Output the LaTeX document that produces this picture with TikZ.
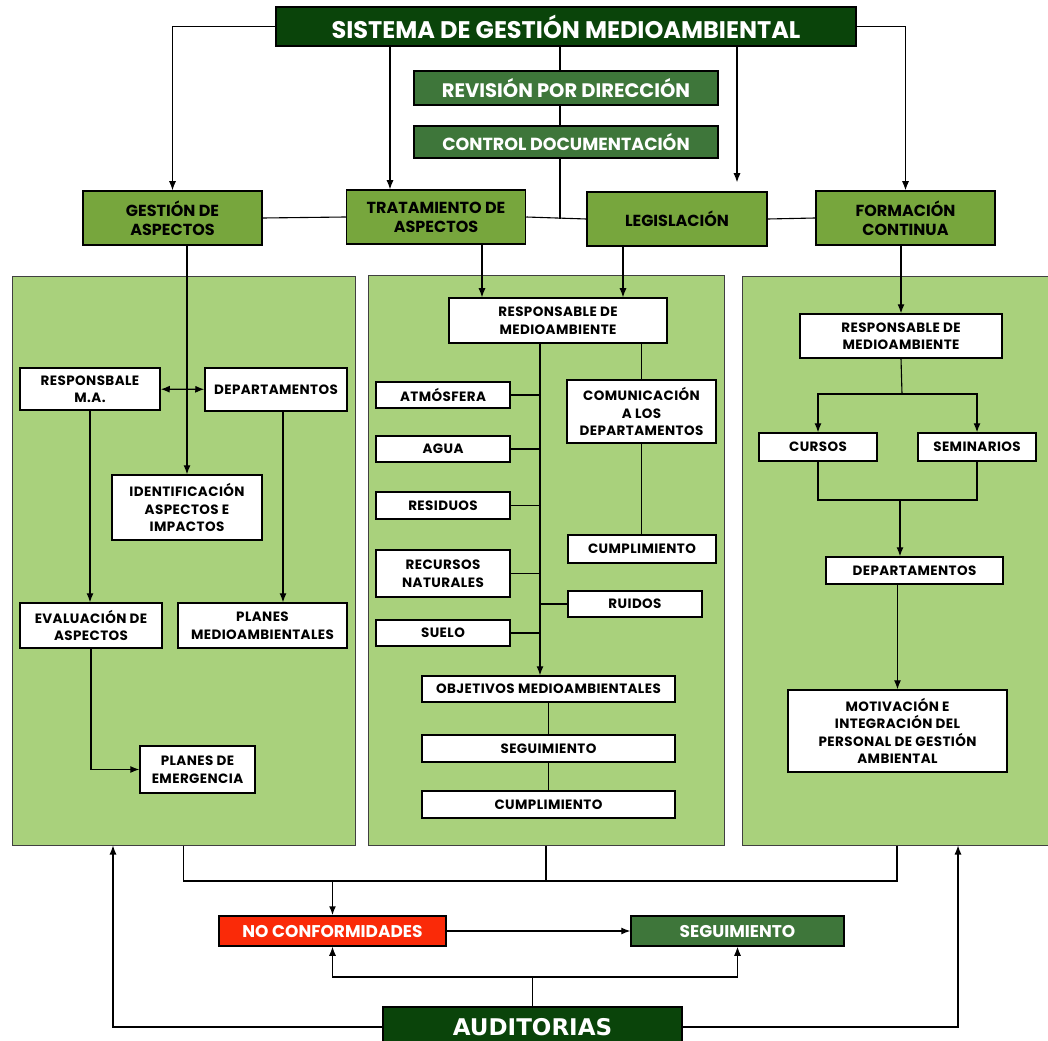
\documentclass[tikz,border=0pt]{standalone}
\usepackage{fontspec}
\setmainfont{Poppins}
\newfontfamily\boxfont[LetterSpace=3]{Poppins}
\newfontfamily\auditfont{DejaVu Sans}
\usetikzlibrary{arrows.meta,positioning}
\definecolor{darkgreen}{RGB}{10,68,10}
\definecolor{midgreen}{RGB}{62,118,58}
\definecolor{leafgreen}{RGB}{119,166,61}
\definecolor{panelgreen}{RGB}{169,209,124}
\definecolor{ncred}{RGB}{250,42,8}

\begin{document}
\begin{tikzpicture}[x=1pt,y=-1pt,>={Latex[length=9pt,width=7pt]},line width=1.1pt,
    panel/.style={fill=panelgreen, draw=black!75, line width=1pt, inner sep=0pt},
    headbox/.style={draw=black, line width=1.5pt, text=white, align=center, inner sep=0pt,
        font=\bfseries\fontsize{16}{19}\selectfont},
    topbox/.style={headbox, fill=darkgreen, font=\bfseries\fontsize{24}{28}\selectfont},
    midbox/.style={headbox, fill=midgreen, font=\bfseries\fontsize{19.5}{22}\selectfont},
    leafbox/.style={headbox, fill=leafgreen, text=black, minimum width=179pt, minimum height=54pt},
    wbox/.style={fill=white, draw=black, line width=1.5pt, align=center, inner sep=1pt,
        font=\boxfont\bfseries\fontsize{13.5}{17.5}\selectfont},
    botbox/.style={headbox, minimum height=30pt, font=\bfseries\fontsize{17}{20}\selectfont}]
    \useasboundingbox (0,0) rectangle (1048,1040);
    %%%%%%%%%
    \node (title) [topbox, minimum width=580pt, minimum height=39pt] at (566,26.5) {SISTEMA DE GESTIÓN MEDIOAMBIENTAL};
    \node (rev) [midbox, minimum width=304pt, minimum height=34pt, below of=title, node distance=61.5pt] {REVISIÓN POR DIRECCIÓN};
    \node (ctrl) [midbox, minimum width=304pt, minimum height=32pt, below of=rev, node distance=54pt,
        font=\bfseries\fontsize{17.5}{20}\selectfont] {CONTROL DOCUMENTACIÓN};
    \node (gest) [leafbox] at (172.5,218) {GESTIÓN DE\\ASPECTOS};
    \node (trat) [leafbox] at (436,217) {TRATAMIENTO DE\\ASPECTOS};
    \node (legis) [leafbox, minimum width=180pt] at (677,219) {LEGISLACIÓN};
    \node (form) [leafbox] at (905.5,218) {FORMACIÓN\\CONTINUA};
    %%%%%%%%%
    \node (p1) [panel, minimum width=343pt, minimum height=568pt] at (183.5,561) {};
    \node (p2) [panel, minimum width=356pt, minimum height=569pt] at (546,560.5) {};
    \node (p3) [panel, minimum width=310pt, minimum height=568pt] at (897,561) {};
    %%%%%%%%%
    \node (resp1) [wbox, minimum width=140pt, minimum height=42pt] at (90,389) {RESPONSBALE\\M.A.};
    \node (dep1) [wbox, minimum width=142pt, minimum height=43pt] at (276,389.5) {DEPARTAMENTOS};
    \node (ident) [wbox, minimum width=150pt, minimum height=65pt] at (187,507.5) {IDENTIFICACIÓN\\ASPECTOS E\\IMPACTOS};
    \node (eval) [wbox, minimum width=142pt, minimum height=45pt] at (91,625.5) {EVALUACIÓN DE\\ASPECTOS};
    \node (planma) [wbox, minimum width=169pt, minimum height=45pt] at (262.5,625.5) {PLANES\\MEDIOAMBIENTALES};
    \node (emerg) [wbox, minimum width=115pt, minimum height=47pt] at (197.5,769.5) {PLANES DE\\EMERGENCIA};
    %%%%%%%%%
    \node (resp2) [wbox, minimum width=218pt, minimum height=45pt] at (558,320.5) {RESPONSABLE DE\\MEDIOAMBIENTE};
    \node (atm) [wbox, minimum width=134pt, minimum height=26pt] at (443,395) {ATMÓSFERA};
    \node (agua) [wbox, minimum width=134pt, minimum height=26pt, below of=atm, node distance=54pt] {AGUA};
    \node (resid) [wbox, minimum width=134pt, minimum height=27pt, below of=agua, node distance=56.5pt] {RESIDUOS};
    \node (recur) [wbox, minimum width=134pt, minimum height=47pt, below of=resid, node distance=68pt] {RECURSOS\\NATURALES};
    \node (suelo) [wbox, minimum width=134pt, minimum height=26pt, below of=recur, node distance=59.5pt] {SUELO};
    \node (comu) [wbox, minimum width=149pt, minimum height=63pt] at (641.5,411.5) {COMUNICACIÓN\\A LOS\\DEPARTAMENTOS};
    \node (cump1) [wbox, minimum width=148pt, minimum height=28pt] at (642,549) {CUMPLIMIENTO};
    \node (ruid) [wbox, minimum width=134pt, minimum height=26pt] at (635,604) {RUIDOS};
    \node (obj) [wbox, minimum width=253pt, minimum height=26pt] at (548.5,689) {OBJETIVOS MEDIOAMBIENTALES};
    \node (segu) [wbox, minimum width=253pt, minimum height=27pt, below of=obj, node distance=59.5pt] {SEGUIMIENTO};
    \node (cump2) [wbox, minimum width=253pt, minimum height=27pt, below of=segu, node distance=56pt] {CUMPLIMIENTO};
    %%%%%%%%%
    \node (resp3) [wbox, minimum width=202pt, minimum height=44pt] at (901,336) {RESPONSABLE DE\\MEDIOAMBIENTE};
    \node (curs) [wbox, minimum width=118pt, minimum height=28pt] at (818,447) {CURSOS};
    \node (semi) [wbox, minimum width=118pt, minimum height=28pt] at (977,447) {SEMINARIOS};
    \node (dep3) [wbox, minimum width=177pt, minimum height=27pt] at (914.5,570.5) {DEPARTAMENTOS};
    \node (motiv) [wbox, minimum width=219pt, minimum height=82pt] at (897.5,731) {MOTIVACIÓN E\\INTEGRACIÓN DEL\\PERSONAL DE GESTIÓN\\AMBIENTAL};
    %%%%%%%%%
    \node (noconf) [botbox, fill=ncred, minimum width=227pt] at (332.5,931) {NO CONFORMIDADES};
    \node (segb) [botbox, fill=midgreen, minimum width=213pt] at (737.5,931) {SEGUIMIENTO};
    \node (audit) [headbox, fill=darkgreen, minimum width=299pt, minimum height=40pt,
        font=\auditfont\bfseries\fontsize{23}{26}\selectfont] at (532.5,1027) {AUDITORIAS};
    %%%%%%%%%%
    \coordinate (spine) at (540,343);
    \coordinate (r3split) at (902,394);
    \coordinate (r3merge) at (900,500);
    \coordinate (collect) at (332.5,881);
    \coordinate (adsplit) at (532.5,977);
        \draw[->] (title.west) -| (gest.north);
        \draw[->] (title.east) -| (form.north);
        \draw[->] ([xshift=-46pt]trat.north |- title.south) -- ([xshift=-46pt]trat.north);
        \draw[->] ([xshift=60pt]legis.north |- title.south) -- ([xshift=60pt,yshift=9pt]legis.north);
        \draw ([xshift=-6pt]title.south) -- ([xshift=-6pt]rev.north) ([xshift=-6pt]rev.south) -- ([xshift=-6pt]ctrl.north);
        \draw ([xshift=-6pt]ctrl.south) -- ([xshift=-6pt]ctrl.south |- legis.west);
        \draw (gest.east) -- (trat.west) (trat.east) -- (legis.west) (legis.east) -- (form.west);
        \draw[->] (gest.south -| ident.north) -- (ident.north);
        \draw[->] ([xshift=46pt]trat.south) -- ([xshift=46pt]trat.south |- resp2.north);
        \draw[->] ([xshift=-54pt]legis.south) -- ([xshift=-54pt]legis.south |- resp2.north);
        \draw[->] (form.south -| resp3.north) -- (resp3.north);
        \draw[<->] (resp1) edge (dep1);
        \draw[->] (resp1.south) -- (resp1.south |- eval.north);
        \draw[->] ([xshift=7pt]dep1.south) -- ([xshift=7pt]dep1.south |- planma.north);
        \draw[->] (eval.south) |- (emerg.west);
        \draw[->] (spine) -- (spine |- obj.north);
        \draw (atm.east) -- (atm.east -| spine);
        \draw (agua.east) -- (agua.east -| spine);
        \draw (resid.east) -- (resid.east -| spine);
        \draw (recur.east) -- (recur.east -| spine);
        \draw (suelo.east) -- (suelo.east -| spine);
        \draw (ruid.west) -- (ruid.west -| spine);
        \draw (resp2.south -| comu.north) -- (comu.north);
        \draw (comu.south) -- (comu.south |- cump1.north);
        \draw (obj.south) -- (segu.north) (segu.south) -- (cump2.north);
        \draw (resp3.south) -- (r3split);
        \draw[->] (r3split) -| (curs.north);
        \draw[->] (r3split) -| (semi.north);
        \draw (curs.south) |- (r3merge) -| (semi.south);
        \draw[->] (r3merge) -- (r3merge |- dep3.north);
        \draw[->] (dep3.south -| motiv.north) -- (motiv.north);
        \draw (p1.south) |- (collect) (p3.south) |- (collect);
        \draw[line width=1.6pt] (p2.south) |- (collect);
        \draw[->,line width=1.6pt] (collect) -- (noconf.north);
        \draw[->] (noconf) edge (segb);
        \draw (audit.north) -- (adsplit);
        \draw[->] (adsplit) -| (noconf.south);
        \draw[->] (adsplit) -| (segb.south);
        \draw[->] (audit.west) -| ([xshift=-70.5pt]p1.south);
        \draw[->] (audit.east) -| ([xshift=61pt]p3.south);
\end{tikzpicture}
\end{document}
